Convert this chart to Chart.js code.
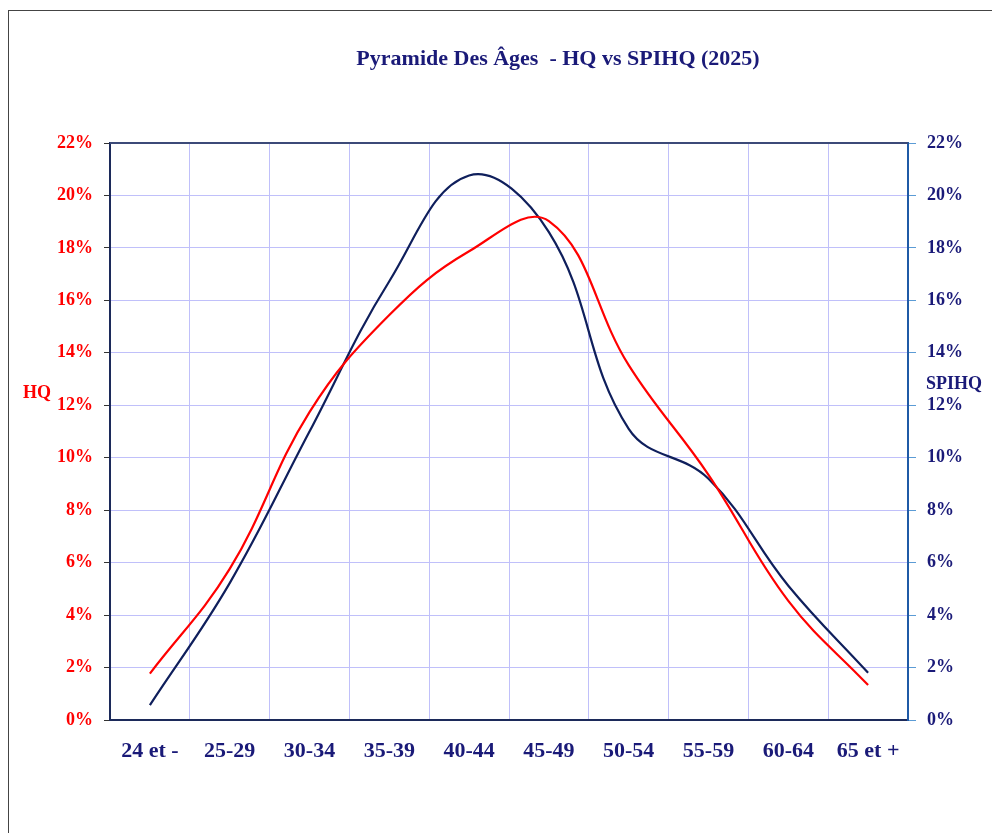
<!DOCTYPE html>
<html>
<head>
<meta charset="utf-8">
<title>Pyramide Des Âges - HQ vs SPIHQ (2025)</title>
<script src="https://cdn.jsdelivr.net/npm/chart.js@4/dist/chart.umd.min.js"></script>
<style>
 html,body{margin:0;padding:0;background:#fff;overflow:hidden}
 #frame{position:absolute;left:8px;top:10px;width:1100px;height:900px;border-left:1px solid #444;border-top:1px solid #444}
 #chart{position:absolute;left:0;top:0}
</style>
</head>
<body>
<div id="frame"></div>
<canvas id="chart" width="992" height="833"></canvas>
<script>
const AGES=['24 et -','25-29','30-34','35-39','40-44','45-49','50-54','55-59','60-64','65 et +'];
const HQ=[1.77,5.76,11.74,15.44,17.87,19.02,13.53,9.35,4.54,1.33];
const SPIHQ=[0.57,5.22,11.0,16.73,20.76,18.6,11.1,9.2,5.12,1.8];
const TITLE='Pyramide Des Âges  - HQ vs SPIHQ (2025)';

const RED='#ff0000',NAVY='#0f1f5c',TXT='#1a1a78',GRID='#c0c0fa';
const SERIF='"Liberation Serif","Times New Roman",serif';

const textPlugin={
 id:'texts',
 afterDraw(chart){
  const c=chart.ctx,a=chart.chartArea;
  c.save();
  // top border of the plot
  c.strokeStyle='#3c4a78';c.lineWidth=2;
  c.beginPath();c.moveTo(a.left,a.top);c.lineTo(a.right,a.top);c.stroke();
  c.textBaseline='middle';c.textAlign='center';
  c.font='bold 22px '+SERIF;c.fillStyle=TXT;
  c.fillText(TITLE,558,59);
  c.font='bold 18px '+SERIF;
  c.textAlign='left';
  c.fillStyle=RED;c.fillText('HQ',23,393);
  c.fillStyle=TXT;c.fillText('SPIHQ',926,384);
  c.restore();
 }
};

new Chart(document.getElementById('chart'),{
 type:'line',
 data:{labels:AGES,datasets:[
  {label:'HQ',data:HQ,borderColor:RED,borderWidth:2.2,pointRadius:0,tension:0.4,yAxisID:'y'},
  {label:'SPIHQ',data:SPIHQ,borderColor:NAVY,borderWidth:2.2,pointRadius:0,tension:0.4,yAxisID:'y1'}
 ]},
 options:{
  responsive:false,animation:false,
  layout:{padding:{top:143,left:0,right:0,bottom:0}},
  plugins:{legend:{display:false},title:{display:false},tooltip:{enabled:false}},
  scales:{
   x:{offset:true,
    grid:{offset:true,color:GRID,drawTicks:false},
    border:{color:'#1c2a5a',width:2},
    ticks:{color:TXT,font:{family:SERIF,size:22,weight:'bold'},padding:18,maxRotation:0,autoSkip:false},
    afterFit(s){s.height=113}},
   y:{position:'left',min:0,max:22,
    grid:{color:GRID,tickLength:6,tickColor:'#333'},
    border:{color:'#1c2a5a',width:2},
    ticks:{stepSize:2,color:RED,padding:11,font:{family:SERIF,size:18,weight:'bold'},callback:v=>v+'%'},
    afterFit(s){s.width=110}},
   y1:{position:'right',min:0,max:22,
    grid:{drawOnChartArea:false,tickLength:8,tickColor:'#5b9bd5'},
    border:{color:'#1f5aa6',width:2},
    ticks:{stepSize:2,color:TXT,padding:11,font:{family:SERIF,size:18,weight:'bold'},callback:v=>v+'%'},
    afterFit(s){s.width=84}}
  }
 },
 plugins:[textPlugin]
});
</script>
</body>
</html>
